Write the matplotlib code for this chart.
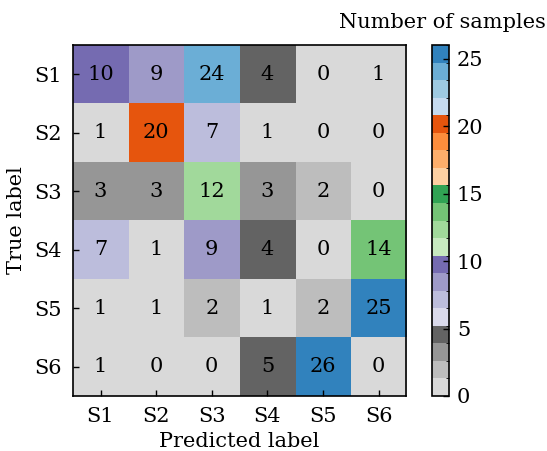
import numpy as np
import matplotlib
matplotlib.use("Agg")
from matplotlib import pyplot as plt
from matplotlib.colors import BoundaryNorm

labels = ['S1', 'S2', 'S3', 'S4', 'S5', 'S6']
counts = np.array([
    [10, 9, 24, 4, 0, 1],
    [1, 20, 7, 1, 0, 0],
    [3, 3, 12, 3, 2, 0],
    [7, 1, 9, 4, 0, 14],
    [1, 1, 2, 1, 2, 25],
    [1, 0, 0, 5, 26, 0],
])

plt.rcParams['font.family'] = ['DejaVu Serif']
plt.rcParams['font.size'] = 15
plt.rcParams['xtick.direction'] = 'in'
plt.rcParams['ytick.direction'] = 'in'

fig = plt.figure(figsize=(5.47, 4.51), dpi=100)
ax = fig.add_axes([0.133, 0.122, 0.610, 0.778])
cax = fig.add_axes([0.790, 0.122, 0.030, 0.778])

cmap = plt.get_cmap('tab20c_r')
norm = BoundaryNorm(np.linspace(0, 26, 21), cmap.N)
im = ax.imshow(counts, cmap=cmap, norm=norm, aspect='auto')

for i in range(counts.shape[0]):
    for j in range(counts.shape[1]):
        ax.text(j, i, str(counts[i, j]), ha='center', va='center', fontsize=15)

ax.set_xticks(range(len(labels)))
ax.set_xticklabels(labels)
ax.set_yticks(range(len(labels)))
ax.set_yticklabels(labels)
ax.tick_params(length=4, width=1, pad=8)
ax.set_xlabel('Predicted label', labelpad=4)
ax.set_ylabel('True label', labelpad=6)
for s in ax.spines.values():
    s.set_linewidth(1.2)

cb = fig.colorbar(im, cax=cax, ticks=[0, 5, 10, 15, 20, 25])
cb.ax.tick_params(direction='in', length=4, width=1, pad=6)
cb.outline.set_linewidth(1.2)
fig.text(0.998, 0.95, 'Number of samples', ha='right', va='center', fontsize=15)

fig.savefig('out.png', dpi=100)
